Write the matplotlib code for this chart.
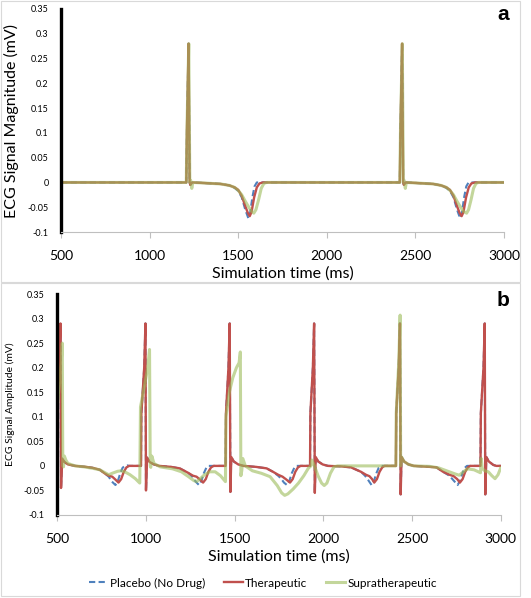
import matplotlib.pyplot as plt
from matplotlib.patches import Rectangle

plt.rcParams['font.family'] = ['Lato', 'DejaVu Sans']

# ---- panel a data (time ms, signal mV) ----
a_placebo_t = [500, 1207, 1211, 1220, 1226, 1230, 1240, 1300, 1400, 1450, 1480, 1500, 1520, 1540,
               1557, 1568, 1580, 1592, 1605, 1700, 2412, 2416, 2425, 2431, 2435, 2445, 2500, 2600,
               2645, 2675, 2695, 2715, 2735, 2752, 2763, 2775, 2787, 2800, 3000]
a_placebo = [0, 0, 0.11, 0.28, 0.0, -0.005, 0.0, -0.001, -0.003, -0.006, -0.011, -0.017, -0.03, -0.055,
             -0.072, -0.06, -0.03, -0.008, 0.0, 0.0, 0, 0.11, 0.28, 0.0, -0.005, 0.0, -0.001, -0.003,
             -0.006, -0.011, -0.017, -0.03, -0.055, -0.072, -0.06, -0.03, -0.008, 0.0, 0.0]

a_thera_t = [500, 1207, 1211, 1220, 1226, 1230, 1240, 1300, 1400, 1450, 1480, 1500, 1520, 1540,
             1555, 1565, 1575, 1590, 1605, 1620, 1640, 1700, 2412, 2416, 2425, 2431, 2435, 2445,
             2500, 2600, 2645, 2675, 2695, 2715, 2735, 2750, 2761, 2771, 2786, 2801, 2816, 2836, 3000]
a_thera = [0, 0, 0.11, 0.28, 0.0, -0.005, 0.0, -0.001, -0.003, -0.006, -0.01, -0.015, -0.027, -0.048,
           -0.062, -0.068, -0.06, -0.03, -0.01, -0.002, 0.0, 0.0, 0, 0.11, 0.28, 0.0, -0.005, 0.0,
           -0.001, -0.003, -0.006, -0.01, -0.015, -0.027, -0.048, -0.062, -0.068, -0.06, -0.03,
           -0.01, -0.002, 0.0, 0.0]

a_supra_t = [500, 1207, 1211, 1221, 1227, 1232, 1238, 1244, 1300, 1400, 1450, 1480, 1500, 1520, 1540,
             1560, 1575, 1588, 1600, 1615, 1630, 1645, 1660, 1700, 2412, 2416, 2426, 2432, 2437,
             2443, 2449, 2500, 2600, 2645, 2675, 2695, 2715, 2735, 2755, 2770, 2789, 2800, 2814,
             2828, 2842, 2856, 3000]
a_supra = [0, 0, 0.11, 0.28, 0.0, 0.004, -0.012, 0.0, -0.001, -0.003, -0.006, -0.01, -0.016, -0.025,
           -0.038, -0.05, -0.058, -0.062, -0.055, -0.035, -0.012, -0.002, 0.0, 0.0, 0, 0.11, 0.28,
           0.0, 0.004, -0.012, 0.0, -0.001, -0.003, -0.006, -0.01, -0.016, -0.025, -0.038, -0.05,
           -0.058, -0.062, -0.055, -0.035, -0.012, -0.002, 0.0, 0.0]

# ---- panel b data ----
b_thera_t = [500, 510, 518, 521, 527, 540, 560, 600, 660, 700, 740, 770, 790, 810, 828, 845, 860, 875,
             890, 905, 972, 974, 990, 997, 1000, 1006, 1020, 1045, 1075, 1140, 1190, 1237, 1265,
             1285, 1305, 1322, 1337, 1352, 1367, 1382, 1449, 1451, 1465, 1472, 1476, 1481, 1495,
             1520, 1550, 1620, 1680, 1716, 1745, 1770, 1792, 1812, 1827, 1842, 1857, 1872, 1925,
             1927, 1941, 1948, 1952, 1957, 1971, 1996, 2026, 2100, 2156, 2212, 2240, 2260, 2275,
             2287, 2302, 2317, 2332, 2345, 2409, 2411, 2425, 2432, 2436, 2441, 2455, 2480, 2510,
             2600, 2638, 2675, 2711, 2735, 2755, 2770, 2785, 2800, 2815, 2828, 2886, 2888, 2903,
             2910, 2913, 2919, 2933, 2958, 2975, 3000]
b_thera = [0.14, 0.2, 0.29, -0.045, 0.015, 0.008, 0.003, 0.0, -0.002, -0.004, -0.008, -0.016, -0.02,
           -0.022, -0.028, -0.034, -0.027, -0.012, -0.003, 0.0, 0.0, 0.107, 0.2, 0.29, -0.05, 0.017,
           0.008, 0.003, 0.0, -0.002, -0.005, -0.014, -0.02, -0.022, -0.028, -0.034, -0.027, -0.012,
           -0.003, 0.0, 0.0, 0.107, 0.2, 0.29, -0.053, 0.018, 0.009, 0.003, 0.0, -0.002, -0.005,
           -0.012, -0.018, -0.022, -0.028, -0.034, -0.027, -0.012, -0.003, 0.0, 0.0, 0.107, 0.2,
           0.29, -0.055, 0.018, 0.009, 0.003, 0.0, -0.001, -0.003, -0.012, -0.018, -0.021, -0.027,
           -0.034, -0.027, -0.012, -0.003, 0.0, 0.0, 0.107, 0.2, 0.29, -0.058, 0.018, 0.009, 0.003,
           0.0, -0.002, -0.003, -0.012, -0.018, -0.021, -0.027, -0.034, -0.027, -0.012, -0.003, 0.0,
           0.0, 0.107, 0.2, 0.29, -0.058, 0.018, 0.009, 0.002, 0.0, 0.0]

b_placebo_t = [500, 510, 518, 521, 527, 540, 560, 600, 660, 700, 740, 770, 790, 808, 828, 842, 855,
               868, 880, 895, 905, 972, 974, 990, 997, 1000, 1006, 1020, 1045, 1075, 1140, 1190,
               1237, 1262, 1280, 1299, 1313, 1326, 1340, 1352, 1382, 1449, 1451, 1465, 1472, 1476,
               1481, 1495, 1520, 1550, 1620, 1680, 1716, 1745, 1762, 1778, 1795, 1809, 1822, 1836,
               1848, 1925, 1927, 1941, 1948, 1952, 1957, 1971, 1996, 2026, 2100, 2156, 2212, 2235,
               2255, 2272, 2286, 2299, 2312, 2325, 2409, 2411, 2425, 2432, 2436, 2441, 2455, 2480,
               2510, 2600, 2638, 2675, 2711, 2740, 2757, 2771, 2784, 2797, 2810, 2886, 2888, 2903,
               2910, 2913, 2919, 2933, 2958, 2975, 3000]
b_placebo = [0.14, 0.2, 0.29, -0.045, 0.015, 0.008, 0.003, 0.0, -0.002, -0.004, -0.008, -0.016, -0.022,
             -0.032, -0.039, -0.03, -0.015, -0.004, 0.0, 0.001, 0.0, 0.0, 0.107, 0.2, 0.29, -0.05,
             0.017, 0.008, 0.003, 0.0, -0.002, -0.005, -0.014, -0.022, -0.032, -0.039, -0.03, -0.015,
             -0.004, 0.0, 0.0, 0.0, 0.107, 0.2, 0.29, -0.053, 0.018, 0.009, 0.003, 0.0, -0.002,
             -0.005, -0.012, -0.02, -0.026, -0.034, -0.039, -0.03, -0.015, -0.004, 0.0, 0.0, 0.107,
             0.2, 0.29, -0.055, 0.018, 0.009, 0.003, 0.0, -0.001, -0.003, -0.012, -0.02, -0.03,
             -0.039, -0.03, -0.015, -0.004, 0.0, 0.0, 0.107, 0.2, 0.29, -0.058, 0.018, 0.009, 0.003,
             0.0, -0.002, -0.003, -0.012, -0.02, -0.032, -0.039, -0.03, -0.015, -0.004, 0.0, 0.0,
             0.107, 0.2, 0.29, -0.058, 0.018, 0.009, 0.002, 0.0, 0.0]

b_supra_t = [500, 510, 522, 528, 531, 535, 540, 548, 560, 600, 650, 700, 740, 770, 790, 810, 840, 860,
             880, 910, 940, 965, 969, 990, 1010, 1020, 1024, 1027, 1033, 1045, 1080, 1150, 1200,
             1240, 1270, 1285, 1300, 1330, 1360, 1390, 1420, 1448, 1451, 1470, 1490, 1510, 1525,
             1532, 1535, 1540, 1546, 1560, 1600, 1650, 1700, 1740, 1765, 1782, 1800, 1830, 1860,
             1890, 1915, 1930, 1935, 1950, 1970, 1990, 2005, 2020, 2040, 2060, 2080, 2409, 2411,
             2425, 2433, 2436, 2441, 2455, 2480, 2510, 2600, 2650, 2680, 2710, 2740, 2766, 2790,
             2812, 2850, 2886, 2890, 2896, 2910, 2930, 2950, 2968, 2985, 3000]
b_supra = [0.12, 0.16, 0.21, 0.25, 0.0, -0.002, 0.02, 0.012, 0.005, 0.0, -0.002, -0.005, -0.008,
           -0.014, -0.018, -0.015, -0.011, -0.01, -0.012, -0.018, -0.026, -0.035, 0.12, 0.16, 0.2,
           0.237, 0.0, -0.003, 0.02, 0.005, -0.002, -0.006, -0.012, -0.022, -0.03, -0.032, -0.028,
           -0.018, -0.012, -0.012, -0.02, -0.032, 0.1, 0.15, 0.18, 0.2, 0.21, 0.232, -0.02, -0.01,
           0.015, 0.0, -0.01, -0.015, -0.022, -0.04, -0.055, -0.06, -0.057, -0.047, -0.035, -0.02,
           -0.005, 0.0, 0.012, 0.0, -0.02, -0.035, -0.04, -0.035, -0.015, -0.002, 0.0, 0.0, 0.107,
           0.21, 0.307, 0.0, 0.018, 0.009, 0.003, 0.0, -0.001, -0.004, -0.008, -0.012, -0.016,
           -0.019, -0.012, -0.006, -0.008, -0.014, 0.015, -0.005, -0.01, -0.012, -0.02, -0.026,
           -0.018, -0.004]

y_ticks = [-0.1, -0.05, 0, 0.05, 0.1, 0.15, 0.2, 0.25, 0.3, 0.35]
y_tick_labels = ['-0.1', '-0.05', '0', '0.05', '0.1', '0.15', '0.2', '0.25', '0.3', '0.35']
x_ticks = [500, 1000, 1500, 2000, 2500, 3000]

blue = '#4F81BD'
red = '#C0504D'
green = '#9BBB59'
W, H = 531, 598

fig = plt.figure(figsize=(W / 100, H / 100), dpi=100)

# light grey chart-area frames
for x0, y0, x1, y1 in [(1, 1, 520, 282), (1, 283, 520, 596)]:
    fig.patches.append(Rectangle((x0 / W, 1 - y1 / H), (x1 - x0) / W, (y1 - y0) / H,
                                 transform=fig.transFigure, fill=False, ec='#D9D9D9', lw=0.8))

ax_a = fig.add_axes([61 / W, 1 - 232 / H, 443 / W, 223 / H])
ax_b = fig.add_axes([57.3 / W, 1 - 515 / H, 443.4 / W, 221 / H])


def style(ax, ylabel, ysize):
    ax.set_xlim(500, 3000)
    ax.set_ylim(-0.1, 0.35)
    ax.set_yticks(y_ticks)
    ax.set_yticklabels(y_tick_labels, fontsize=6.5)
    ax.set_xticks(x_ticks)
    ax.tick_params(axis='x', labelsize=10, length=4, color='#BFBFBF', pad=9)
    ax.tick_params(axis='y', length=0, pad=9)
    for s in ['top', 'right']:
        ax.spines[s].set_visible(False)
    ax.spines['left'].set_color('black')
    ax.spines['left'].set_linewidth(2.4)
    ax.spines['bottom'].set_color('#BFBFBF')
    ax.spines['bottom'].set_linewidth(0.8)
    ax.set_xlabel('Simulation time (ms)', fontsize=11.5, labelpad=3)
    ax.set_ylabel(ylabel, fontsize=ysize, labelpad=6)


def draw(ax, placebo_t, placebo, thera_t, thera, supra_t, supra):
    l1, = ax.plot(placebo_t, placebo, color=blue, lw=1.5, ls=(0, (3, 1.6)), label='Placebo (No Drug)')
    l2, = ax.plot(thera_t, thera, color=red, lw=1.7, label='Therapeutic')
    l3, = ax.plot(supra_t, supra, color=green, lw=2.2, alpha=0.6, label='Supratherapeutic')
    return [l1, l2, l3]


draw(ax_a, a_placebo_t, a_placebo, a_thera_t, a_thera, a_supra_t, a_supra)
handles = draw(ax_b, b_placebo_t, b_placebo, b_thera_t, b_thera, b_supra_t, b_supra)

style(ax_a, 'ECG Signal Magnitude (mV)', 11.5)
style(ax_b, 'ECG Signal Amplitude (mV)', 7.5)

fig.text(503 / W, 1 - 15 / H, 'a', fontsize=15, fontweight='bold', family='Liberation Sans',
         ha='center', va='center')
fig.text(503 / W, 1 - 300 / H, 'b', fontsize=15, fontweight='bold', family='Liberation Sans',
         ha='center', va='center')

fig.legend(handles=handles, loc='center', bbox_to_anchor=(0.495, 1 - 583 / H), ncol=3,
           frameon=False, fontsize=8.5, handlelength=1.6, handletextpad=0.2, columnspacing=1.6)

fig.savefig('out.png', dpi=100)
